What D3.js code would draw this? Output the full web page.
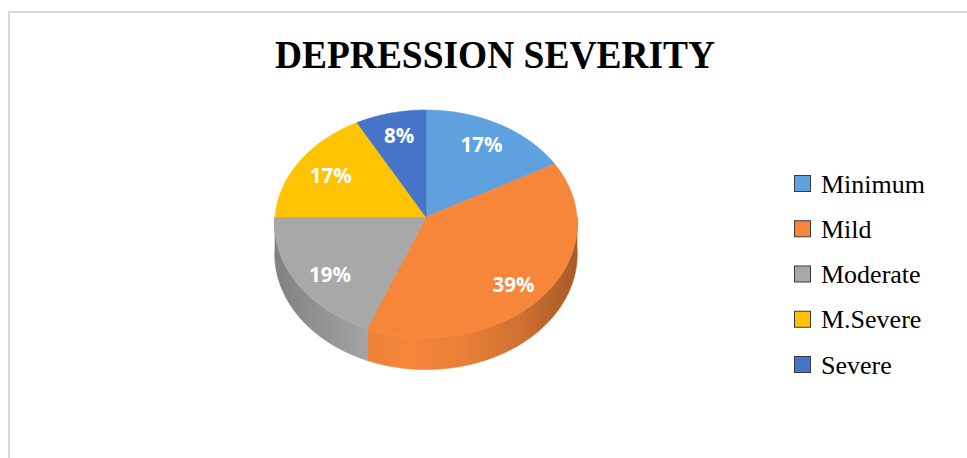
<!DOCTYPE html>
<html>
<head>
<meta charset="utf-8">
<script src="https://cdn.jsdelivr.net/npm/d3@7"></script>
<style>
  body { margin: 0; background: #ffffff; }
  svg { display: block; }
</style>
</head>
<body>
<svg id="chart" width="967" height="458"></svg>
<script>
// Depression severity distribution (percent of respondents)
const categories = ["Minimum", "Mild", "Moderate", "M.Severe", "Severe"];
const shares = [17, 39, 19, 17, 8];
const sliceLabels = ["17%", "39%", "19%", "17%", "8%"];
const sliceColors = ["#5ea1de", "#f5863a", "#a8a8a8", "#ffc401", "#4674c8"];
const chartTitle = "DEPRESSION SEVERITY";

const svg = d3.select("#chart");

// Chart frame
svg.append("rect")
  .attr("x", 9).attr("y", 12)
  .attr("width", 1000).attr("height", 500)
  .attr("fill", "#ffffff")
  .attr("stroke", "#d9d9d9")
  .attr("stroke-width", 2);

// Title
svg.append("text")
  .attr("x", 495).attr("y", 68)
  .attr("text-anchor", "middle")
  .attr("font-family", "'Liberation Serif', 'Times New Roman', serif")
  .attr("font-weight", "bold")
  .attr("font-size", 39)
  .attr("textLength", 440)
  .attr("lengthAdjust", "spacingAndGlyphs")
  .attr("fill", "#000000")
  .text(chartTitle);

// Tilted pie geometry with a light perspective
const cx = 426, cy = 217;     // projected pie centre
const R = 151, Ry = 113.4;    // horizontal / vertical radius
const persp = 0.06;           // front is a little closer than the back
const depth = 30;             // thickness of the disc

function project(theta, f, drop) {
  const u = Math.sin(theta), v = -Math.cos(theta);
  const s = 1 / (1 - persp * f * v);
  return [cx + R * f * u * s, cy + Ry * f * v * s + drop * s];
}

function arcPoints(a0, a1, f, drop) {
  const n = Math.max(2, Math.ceil(Math.abs(a1 - a0) / 0.01));
  const pts = [];
  for (let i = 0; i <= n; i++) {
    pts.push(project(a0 + (a1 - a0) * i / n, f, drop));
  }
  return pts;
}

const pie = d3.pie().sort(null).value(d => d.value);
const arcs = pie(categories.map((c, i) => ({ name: c, value: shares[i], i })));

const line = d3.line().curve(d3.curveLinear);
const defs = svg.append("defs");

// Side shading: dark at both rims, bright toward the front-left
const shade = [
  [0.00, 0.75], [0.12, 0.45], [0.30, 0.08], [0.45, 0.0],
  [0.62, 0.12], [0.80, 0.45], [0.93, 0.85], [1.00, 1.05]
];
arcs.forEach(a => {
  const g = defs.append("linearGradient")
    .attr("id", "side" + a.data.i)
    .attr("gradientUnits", "userSpaceOnUse")
    .attr("x1", cx - R).attr("x2", cx + R)
    .attr("y1", 0).attr("y2", 0);
  shade.forEach(([o, k]) => {
    g.append("stop")
      .attr("offset", o)
      .attr("stop-color", d3.color(sliceColors[a.data.i]).darker(k).formatHex());
  });
});

// Side walls (front half only)
const sides = svg.append("g");
arcs.forEach(a => {
  const a0 = Math.max(a.startAngle, Math.PI / 2);
  const a1 = Math.min(a.endAngle, 3 * Math.PI / 2);
  if (a0 >= a1) return;
  const pts = arcPoints(a0, a1, 1, 0).concat(arcPoints(a1, a0, 1, depth));
  sides.append("path")
    .attr("d", line(pts) + "Z")
    .attr("fill", `url(#side${a.data.i})`)
    .attr("stroke", `url(#side${a.data.i})`)
    .attr("stroke-width", 0.6);
});

// Top faces
const tops = svg.append("g");
arcs.forEach(a => {
  const pts = [[cx, cy]].concat(arcPoints(a.startAngle, a.endAngle, 1, 0));
  tops.append("path")
    .attr("d", line(pts) + "Z")
    .attr("fill", sliceColors[a.data.i])
    .attr("stroke", sliceColors[a.data.i])
    .attr("stroke-width", 0.6)
    .attr("stroke-linejoin", "round");
});

// Percentage labels, pulled slightly toward the front rim
const labelG = svg.append("g");
arcs.forEach(a => {
  const mid = (a.startAngle + a.endAngle) / 2;
  const [x, y] = project(mid, 0.75, 0);
  const v = -Math.cos(mid);
  labelG.append("text")
    .attr("x", x).attr("y", y + 4 + 7 * v)
    .attr("text-anchor", "middle")
    .attr("dominant-baseline", "central")
    .attr("font-family", "'Open Sans', 'DejaVu Sans', sans-serif")
    .attr("font-weight", "bold")
    .attr("font-size", 20.5)
    .attr("fill", "#ffffff")
    .text(sliceLabels[a.data.i]);
});

// Legend
const legendY = d3.scalePoint().domain(categories).range([184, 365]);
const legend = svg.append("g");
categories.forEach((c, i) => {
  const y = legendY(c);
  legend.append("rect")
    .attr("x", 794.5).attr("y", y - 8.5)
    .attr("width", 16).attr("height", 16)
    .attr("fill", sliceColors[i])
    .attr("stroke", "#3a3a3a")
    .attr("stroke-width", 1);
  legend.append("text")
    .attr("x", 821).attr("y", y + 8.5)
    .attr("font-family", "'Liberation Serif', 'Times New Roman', serif")
    .attr("font-size", 26)
    .attr("fill", "#000000")
    .text(c);
});
</script>
</body>
</html>
